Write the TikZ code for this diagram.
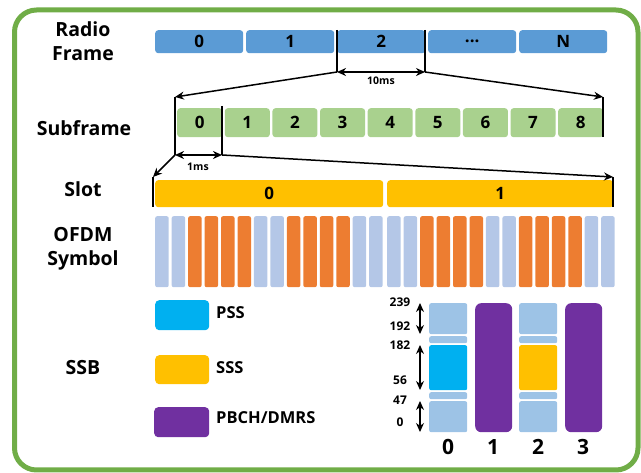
\documentclass[tikz,border=0pt]{standalone}
\usepackage{fontspec}
\setmainfont{Open Sans}
\usetikzlibrary{arrows.meta}
\definecolor{rfblue}{HTML}{5B9BD5}
\definecolor{sfgreen}{HTML}{A9D18E}
\definecolor{slotyel}{HTML}{FFC000}
\definecolor{ofdmlt}{HTML}{B4C7E7}
\definecolor{ofdmor}{HTML}{ED7D31}
\definecolor{ssblt}{HTML}{9DC3E6}
\definecolor{pssblue}{HTML}{00B0F0}
\definecolor{pbchpur}{HTML}{7030A0}
\definecolor{frame}{HTML}{70AD47}
\tikzset{
  title/.style={font=\bfseries\fontsize{19.5}{24}\selectfont, align=center, inner sep=0pt},
  cell/.style={anchor=north west, inner sep=0pt, rounded corners=3pt, font=\bfseries\fontsize{17}{18}\selectfont},
  small/.style={font=\bfseries\fontsize{10.5}{12}\selectfont, inner sep=0pt},
  num/.style={font=\bfseries\fontsize{12}{13}\selectfont, inner sep=0pt},
  big/.style={font=\bfseries\fontsize{21}{22}\selectfont, inner sep=0pt},
  leg/.style={font=\bfseries\fontsize{16.5}{18}\selectfont, inner sep=0pt, anchor=west},
  ln/.style={line width=1.5pt, black},
  arr/.style={ln, -{Stealth[length=9pt,width=8pt]}},
  darr/.style={ln, {Stealth[length=9pt,width=8pt]}-{Stealth[length=9pt,width=8pt]}},
  seg/.style={anchor=north west, inner sep=0pt, rounded corners=2pt, minimum width=38pt},
  rfcell/.style={cell, fill=rfblue, minimum width=88pt, minimum height=23pt},
}
\begin{document}
\begin{tikzpicture}[x=1pt,y=-1pt]
\useasboundingbox (0,0) rectangle (641,473);
\draw[frame, line width=5pt, rounded corners=22pt] (14.5,10) rectangle (638,470);

% left titles
\node[title] (tRF) at (83,41) {Radio\\Frame};
\node[title] (tSF) at (84,128) {Subframe};
\node[title] (tSL) at (83,189) {Slot};
\node[title] (tOF) at (83,249) {OFDM\\Symbol};
\node[title] (tSSB) at (83,368) {SSB};

% radio frames
\node[rfcell] (rf0) at (155,30) {0};
\node[rfcell] (rf1) at (246,30) {1};
\node[rfcell] (rf2) at (337,30) {2};
\node[rfcell] (rf3) at (428,30) {...};
\node[rfcell] (rf4) at (519,30) {N};

% subframes
\foreach \i in {0,1,2,3,4,5,6,7,8}
  \node[cell, fill=sfgreen, minimum width=45pt, minimum height=29pt] (sf\i) at ({177+\i*47.625},108) {\i};

% slots
\node[cell, fill=slotyel, minimum width=228pt, minimum height=27pt] (sl0) at (155,180) {0};
\node[cell, fill=slotyel, minimum width=226pt, minimum height=27pt] (sl1) at (387,180) {1};

% OFDM symbols
\foreach \s/\xo in {0/155,1/387}{
  \foreach \i/\c in {0/ofdmlt,1/ofdmlt,2/ofdmor,3/ofdmor,4/ofdmor,5/ofdmor,6/ofdmlt,7/ofdmlt,8/ofdmor,9/ofdmor,10/ofdmor,11/ofdmor,12/ofdmlt,13/ofdmlt}
    \node[anchor=north west, inner sep=0pt, rounded corners=2pt, fill=\c, minimum width=13.5pt, minimum height=71pt] (o\s-\i) at ({\xo+\i*16.46},216) {};
}

% connector coordinates
\coordinate (a1) at (337,30);
\coordinate (a2) at (337,72);
\coordinate (b1) at (425,30);
\coordinate (b2) at (425,72);
\coordinate (c1) at (175,97);
\coordinate (c2) at (175,155);
\coordinate (d1) at (603,97);
\coordinate (d2) at (603,137);
\coordinate (e1) at (222,106);
\coordinate (e2) at (222,155);
\coordinate (f1) at (153,177);
\coordinate (f2) at (153,207);
\coordinate (g1) at (613,177);
\coordinate (g2) at (613,207);

\draw[ln] (a1) -- (a2);
\draw[ln] (b1) -- (b2);
\draw[darr] (a2) -- (b2);
\node[small] (t10) at (381,81) {10ms};
\draw[arr] (a2) -- (c1);
\draw[arr] (b2) -- (d1);
\draw[ln] (c1) -- (c2);
\draw[ln] (d1) -- (d2);
\draw[ln] (e1) -- (e2);
\draw[darr] (c2) -- (e2);
\node[small] (t1) at (198,167) {1ms};
\draw[arr] (c2) -- (f1);
\draw[arr] (e2) -- (g1);
\draw[ln] (f1) -- (f2);
\draw[ln] (g1) -- (g2);

% legend
\node[anchor=north west, inner sep=0pt, rounded corners=4pt, fill=pssblue, minimum width=54pt, minimum height=30pt] (lp) at (155,300) {};
\node[leg] (lpt) at (216,313) {PSS};
\node[anchor=north west, inner sep=0pt, rounded corners=4pt, fill=slotyel, minimum width=54pt, minimum height=29pt] (ls) at (155,355) {};
\node[leg] (lst) at (216,368) {SSS};
\node[anchor=north west, inner sep=0pt, rounded corners=4pt, fill=pbchpur, minimum width=55pt, minimum height=30pt] (lb) at (154,407) {};
\node[leg] (lbt) at (216,418) {PBCH/DMRS};

% SSB bars
\foreach \k/\xo/\c in {0/429/pssblue,2/519/slotyel}{
  \node[seg, fill=ssblt, minimum height=31pt] (s\k a) at (\xo,303) {};
  \node[seg, fill=ssblt, minimum height=7pt] (s\k b) at (\xo,336) {};
  \node[seg, fill=\c, minimum height=45pt] (s\k c) at (\xo,345) {};
  \node[seg, fill=ssblt, minimum height=7pt] (s\k d) at (\xo,392) {};
  \node[seg, fill=ssblt, minimum height=31pt] (s\k e) at (\xo,401) {};
}
\node[anchor=north west, inner sep=0pt, rounded corners=6pt, fill=pbchpur, minimum width=37pt, minimum height=129pt] (s1) at (475,303) {};
\node[anchor=north west, inner sep=0pt, rounded corners=6pt, fill=pbchpur, minimum width=37pt, minimum height=129pt] (s3) at (565,303) {};

\node[big] (n0) at (448,447) {0};
\node[big] (n1) at (493,447) {1};
\node[big] (n2) at (538,447) {2};
\node[big] (n3) at (583,447) {3};

% numbers
\node[num] (v239) at (400,302) {239};
\node[num] (v192) at (400,326) {192};
\node[num] (v182) at (400,345) {182};
\node[num] (v56) at (400,380) {56};
\node[num] (v47) at (400,400) {47};
\node[num] (v0) at (400,422) {0};

\coordinate (h1) at (420,303);
\coordinate (h2) at (420,334);
\coordinate (h3) at (420,345);
\coordinate (h4) at (420,390);
\coordinate (h5) at (420,401);
\coordinate (h6) at (420,432);
\draw[darr, line width=1.3pt] (h1) -- (h2);
\draw[darr, line width=1.3pt] (h3) -- (h4);
\draw[darr, line width=1.3pt] (h5) -- (h6);
\end{tikzpicture}
\end{document}
